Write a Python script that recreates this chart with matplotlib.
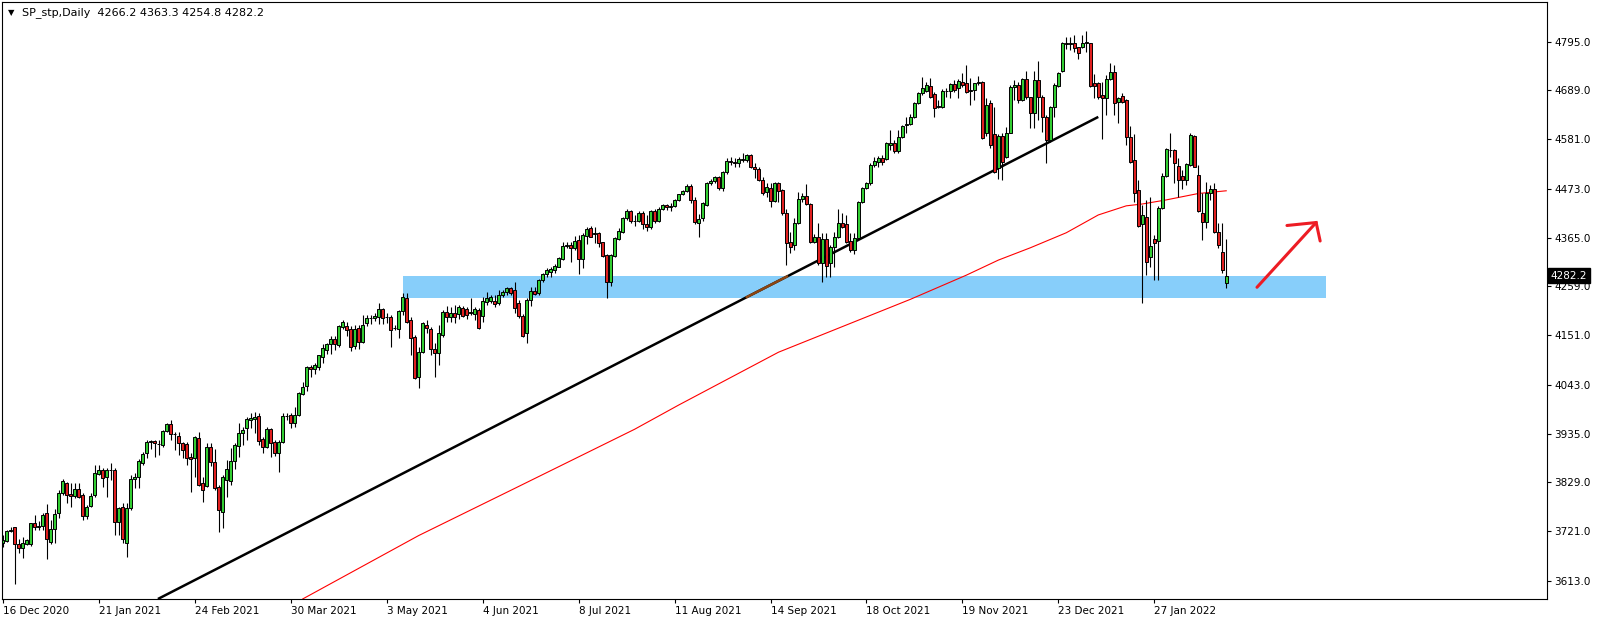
import numpy as np
import matplotlib.pyplot as plt

# daily candles (bar 0 = 16 Dec 2020)
opens = [
    3695.0, 3700.7, 3721.9, 3730.6, 3694.0, 3684.0, 3693.4, 3692.7, 3738.8, 3731.0,
    3733.5, 3760.7, 3698.5, 3725.6, 3760.7, 3804.6, 3826.6, 3802.4, 3799.4, 3814.0,
    3800.9, 3755.5, 3776.7, 3800.9, 3846.9, 3855.7, 3841.0, 3855.7, 3855.7, 3742.3,
    3775.2, 3696.3, 3771.7, 3836.0, 3841.0, 3871.7, 3892.3, 3917.8, 3919.3, 3912.7,
    3910.5, 3941.9, 3956.6, 3934.0, 3930.2, 3914.3, 3912.7, 3883.5, 3881.3, 3925.2,
    3826.6, 3820.6, 3905.5, 3873.2, 3817.7, 3763.6, 3833.8, 3832.3, 3876.1, 3909.0,
    3937.5, 3948.5, 3965.3, 3966.8, 3974.1, 3923.0, 3906.8, 3944.9, 3916.4, 3893.6,
    3916.4, 3974.1, 3976.3, 3958.1, 3976.3, 4022.4, 4040.6, 4080.5, 4076.5, 4082.2,
    4104.2, 4118.9, 4131.4, 4142.3, 4129.8, 4168.6, 4171.5, 4164.9, 4128.3, 4166.4,
    4137.1, 4177.4, 4188.3, 4188.3, 4191.9, 4208.1, 4190.6, 4191.9, 4166.4, 4165.5,
    4203.7, 4232.2, 4184.6, 4148.0, 4060.3, 4115.1, 4173.7, 4164.9, 4121.0, 4112.9,
    4151.7, 4201.5, 4191.2, 4200.0, 4197.8, 4211.6, 4208.8, 4200.6, 4197.8, 4206.6,
    4194.1, 4224.8, 4227.0, 4227.0, 4222.6, 4239.5, 4246.7, 4254.1, 4250.0, 4221.9,
    4193.4, 4156.8, 4228.5, 4248.2, 4243.2, 4272.4, 4285.5, 4289.9, 4294.3, 4301.5,
    4318.4, 4348.0, 4349.1, 4342.5, 4360.1, 4318.4, 4368.8, 4385.7, 4373.2, 4376.1,
    4355.7, 4327.2, 4268.6, 4325.0, 4362.3, 4378.3, 4407.7, 4422.6, 4400.9, 4402.2,
    4419.3, 4395.2, 4388.6, 4423.0, 4402.8, 4428.9, 4436.8, 4431.8, 4435.7, 4447.8,
    4459.9, 4468.0, 4478.5, 4447.8, 4397.4, 4407.7, 4436.8, 4484.4, 4489.5, 4497.6,
    4473.5, 4509.9, 4533.3, 4531.1, 4528.9, 4535.5, 4535.5, 4546.5, 4520.8, 4515.1,
    4491.7, 4464.7, 4474.8, 4446.3, 4485.7, 4469.7, 4418.6, 4356.3, 4349.1, 4396.7,
    4449.3, 4456.6, 4439.0, 4356.3, 4366.0, 4310.3, 4361.6, 4309.0, 4344.1, 4366.0,
    4398.0, 4395.2, 4358.5, 4338.2, 4363.8, 4444.1, 4474.8, 4484.4, 4524.6, 4531.8,
    4539.3, 4537.1, 4568.4, 4573.5, 4555.9, 4585.3, 4612.3, 4614.5, 4629.2, 4659.9,
    4681.8, 4687.5, 4697.8, 4680.3, 4651.7, 4652.4, 4686.8, 4687.5, 4702.2, 4692.8,
    4707.2, 4703.7, 4686.8, 4689.0, 4703.7, 4707.2, 4594.7, 4660.5, 4592.5, 4517.3,
    4588.2, 4541.4, 4595.4, 4695.0, 4700.0, 4667.1, 4712.5, 4673.7, 4637.9, 4711.0,
    4673.0, 4630.5, 4579.4, 4651.1, 4697.8, 4731.4, 4791.4, 4789.9, 4792.8, 4782.7,
    4782.7, 4791.4, 4791.4, 4703.7, 4705.0, 4678.1, 4670.8, 4712.5, 4727.8, 4663.4,
    4675.9, 4667.1, 4585.3, 4535.5, 4469.7, 4395.2, 4409.8, 4322.1, 4361.6, 4358.5,
    4429.6, 4500.4, 4557.5, 4557.5, 4522.4, 4500.4, 4491.7, 4524.6, 4588.2, 4502.6,
    4420.0, 4400.2, 4462.5, 4471.3, 4378.3, 4333.1, 4266.2,
]
highs = [
    3713.1, 3724.1, 3731.3, 3731.3, 3703.7, 3709.4, 3703.7, 3740.1, 3757.0, 3744.5,
    3762.1, 3781.1, 3746.0, 3769.5, 3811.8, 3835.3, 3830.1, 3826.1, 3826.1, 3826.1,
    3804.6, 3778.9, 3804.6, 3866.7, 3866.7, 3859.4, 3859.4, 3870.4, 3859.4, 3775.2,
    3782.7, 3782.7, 3844.7, 3848.5, 3879.1, 3895.8, 3921.5, 3921.5, 3921.5, 3921.5,
    3943.4, 3959.4, 3965.3, 3939.7, 3939.7, 3917.8, 3917.8, 3892.3, 3930.2, 3939.7,
    3841.0, 3914.3, 3914.3, 3901.8, 3822.8, 3844.7, 3877.6, 3903.3, 3914.3, 3959.4,
    3950.6, 3972.6, 3981.4, 3982.3, 3980.0, 3928.7, 3950.6, 3948.5, 3921.5, 3921.5,
    3980.0, 3980.7, 3980.0, 3993.8, 4026.8, 4048.1, 4083.8, 4086.0, 4089.7, 4108.6,
    4132.0, 4134.9, 4149.6, 4150.2, 4173.7, 4184.6, 4180.9, 4171.5, 4173.7, 4173.7,
    4195.6, 4195.6, 4195.6, 4199.3, 4221.2, 4210.3, 4200.6, 4195.6, 4173.7, 4206.6,
    4243.2, 4243.2, 4191.9, 4151.7, 4126.1, 4180.9, 4184.6, 4170.0, 4133.6, 4173.7,
    4206.6, 4215.3, 4212.5, 4217.5, 4217.5, 4215.3, 4213.8, 4232.2, 4213.8, 4210.3,
    4234.4, 4246.7, 4239.5, 4239.5, 4250.4, 4250.4, 4256.3, 4257.6, 4268.6, 4228.5,
    4197.8, 4232.2, 4257.6, 4257.6, 4274.6, 4288.4, 4298.0, 4300.2, 4306.8, 4323.5,
    4356.3, 4356.3, 4356.3, 4368.8, 4371.0, 4374.8, 4389.2, 4391.4, 4389.2, 4378.3,
    4356.3, 4329.4, 4329.4, 4367.3, 4385.7, 4411.2, 4428.1, 4424.8, 4414.9, 4422.6,
    4423.7, 4414.9, 4425.9, 4428.1, 4432.4, 4440.1, 4440.1, 4441.2, 4450.0, 4462.0,
    4470.8, 4482.9, 4481.8, 4454.4, 4417.1, 4444.1, 4487.9, 4493.2, 4500.4, 4500.4,
    4512.1, 4539.3, 4542.8, 4539.3, 4541.4, 4550.2, 4548.7, 4548.7, 4528.3, 4520.8,
    4498.9, 4484.4, 4485.7, 4487.9, 4487.9, 4471.3, 4427.4, 4378.3, 4407.7, 4466.0,
    4462.5, 4482.9, 4441.9, 4373.2, 4396.7, 4374.8, 4374.8, 4349.1, 4378.3, 4427.4,
    4418.6, 4414.9, 4374.8, 4374.8, 4446.3, 4477.0, 4487.9, 4528.3, 4542.8, 4544.3,
    4546.5, 4575.6, 4601.3, 4579.4, 4601.3, 4612.3, 4630.5, 4636.4, 4663.4, 4685.3,
    4718.2, 4707.2, 4714.7, 4685.3, 4667.1, 4690.6, 4692.8, 4705.0, 4711.0, 4712.5,
    4725.7, 4743.9, 4714.7, 4705.0, 4719.7, 4709.4, 4671.5, 4667.1, 4651.7, 4592.5,
    4594.1, 4608.6, 4700.0, 4711.0, 4707.2, 4714.7, 4730.7, 4674.3, 4731.4, 4752.6,
    4678.1, 4634.2, 4653.9, 4703.7, 4729.2, 4795.0, 4805.9, 4805.9, 4809.6, 4784.0,
    4809.6, 4818.4, 4792.8, 4724.1, 4707.2, 4707.2, 4721.9, 4748.9, 4743.9, 4674.3,
    4681.8, 4668.6, 4610.1, 4592.5, 4491.7, 4436.8, 4447.8, 4453.7, 4371.0, 4434.6,
    4507.7, 4561.2, 4594.1, 4559.0, 4539.3, 4513.6, 4529.6, 4594.1, 4590.3, 4524.6,
    4462.5, 4487.9, 4480.7, 4484.4, 4396.7, 4396.7, 4363.3,
]
lows = [
    3687.5, 3698.5, 3720.4, 3605.1, 3673.1, 3662.1, 3691.2, 3689.7, 3724.1, 3724.1,
    3724.1, 3659.9, 3693.4, 3695.0, 3749.7, 3800.9, 3782.7, 3775.2, 3793.5, 3793.5,
    3746.0, 3747.5, 3775.2, 3797.2, 3844.7, 3819.2, 3795.9, 3833.8, 3713.1, 3713.1,
    3695.0, 3664.2, 3768.0, 3815.6, 3816.9, 3866.7, 3881.3, 3901.1, 3883.5, 3888.6,
    3906.8, 3939.7, 3921.5, 3899.6, 3888.6, 3881.3, 3866.7, 3808.1, 3841.0, 3821.0,
    3786.2, 3819.2, 3864.5, 3811.8, 3720.4, 3729.2, 3797.2, 3822.8, 3857.3, 3884.9,
    3910.5, 3921.5, 3947.1, 3936.2, 3910.5, 3892.3, 3903.3, 3884.9, 3886.4, 3852.0,
    3914.3, 3965.3, 3947.1, 3950.6, 3974.1, 4020.2, 4029.6, 4060.3, 4066.2, 4075.0,
    4089.7, 4110.1, 4110.1, 4118.9, 4126.1, 4164.2, 4150.2, 4116.7, 4120.4, 4120.4,
    4134.9, 4171.5, 4175.9, 4183.1, 4175.2, 4175.2, 4177.4, 4126.1, 4162.7, 4144.5,
    4195.6, 4177.4, 4107.9, 4055.3, 4034.8, 4111.6, 4155.5, 4107.9, 4060.3, 4085.9,
    4148.0, 4180.9, 4180.9, 4178.7, 4186.2, 4190.6, 4186.2, 4195.6, 4184.6, 4164.0,
    4180.9, 4217.5, 4222.6, 4213.8, 4217.5, 4234.4, 4239.5, 4239.5, 4199.3, 4189.0,
    4148.0, 4134.9, 4215.3, 4239.5, 4239.5, 4268.6, 4279.6, 4278.3, 4287.1, 4300.2,
    4316.2, 4341.9, 4312.5, 4338.2, 4285.5, 4298.0, 4351.3, 4366.0, 4352.8, 4345.4,
    4322.1, 4232.2, 4259.2, 4322.1, 4360.1, 4376.1, 4403.9, 4397.4, 4391.8, 4399.5,
    4384.2, 4379.8, 4384.2, 4397.4, 4399.5, 4425.9, 4425.9, 4423.7, 4432.4, 4445.6,
    4458.8, 4465.3, 4441.2, 4395.2, 4366.7, 4401.8, 4434.6, 4480.7, 4485.7, 4469.7,
    4468.2, 4504.8, 4524.6, 4520.8, 4520.8, 4531.8, 4531.8, 4517.3, 4495.4, 4490.1,
    4458.8, 4455.1, 4433.1, 4444.1, 4444.1, 4414.9, 4305.2, 4330.9, 4338.2, 4395.2,
    4444.1, 4436.8, 4354.2, 4352.8, 4305.2, 4268.6, 4278.3, 4278.3, 4301.5, 4363.8,
    4385.7, 4352.8, 4334.4, 4329.4, 4361.6, 4440.6, 4471.3, 4480.7, 4520.8, 4519.5,
    4524.6, 4535.5, 4557.5, 4550.2, 4550.2, 4583.1, 4594.1, 4611.6, 4627.0, 4658.3,
    4678.1, 4685.3, 4670.8, 4630.5, 4648.9, 4648.9, 4674.3, 4670.8, 4685.3, 4670.8,
    4696.3, 4683.1, 4656.1, 4667.1, 4700.0, 4580.9, 4588.2, 4561.8, 4507.7, 4493.9,
    4491.7, 4539.3, 4594.1, 4667.1, 4661.2, 4665.6, 4669.3, 4605.0, 4605.0, 4623.2,
    4597.6, 4529.6, 4575.6, 4630.5, 4695.0, 4729.2, 4778.3, 4776.8, 4773.0, 4756.4,
    4780.5, 4773.0, 4695.0, 4670.8, 4668.6, 4580.9, 4634.2, 4711.0, 4634.2, 4616.0,
    4661.2, 4568.4, 4529.6, 4444.1, 4387.9, 4221.3, 4283.3, 4301.5, 4272.4, 4272.4,
    4427.4, 4498.9, 4542.8, 4484.4, 4455.1, 4471.3, 4480.7, 4522.4, 4519.5, 4422.1,
    4360.1, 4385.7, 4447.8, 4374.8, 4341.9, 4288.4, 4254.8,
]
closes = [
    3702.2, 3721.9, 3724.1, 3693.4, 3684.0, 3695.0, 3701.5, 3738.8, 3731.3, 3732.5,
    3756.3, 3703.7, 3725.6, 3758.5, 3804.6, 3831.6, 3800.2, 3799.4, 3814.0, 3795.9,
    3754.8, 3775.2, 3799.4, 3848.5, 3855.7, 3837.5, 3855.7, 3854.6, 3742.3, 3773.0,
    3703.7, 3771.7, 3836.0, 3841.0, 3875.4, 3890.8, 3917.8, 3918.3, 3914.3, 3913.8,
    3941.2, 3956.6, 3934.0, 3934.7, 3914.3, 3899.6, 3881.3, 3879.1, 3927.4, 3822.8,
    3811.8, 3905.5, 3873.2, 3816.2, 3768.0, 3840.3, 3857.3, 3875.4, 3910.5, 3936.2,
    3943.4, 3966.8, 3970.4, 3971.3, 3920.0, 3906.8, 3944.9, 3914.3, 3892.3, 3917.8,
    3974.1, 3975.2, 3959.4, 3976.3, 4023.9, 4037.1, 4081.6, 4078.0, 4085.3, 4107.2,
    4122.6, 4132.0, 4143.0, 4132.0, 4171.5, 4179.6, 4162.7, 4126.1, 4164.9, 4137.1,
    4173.7, 4188.3, 4189.0, 4193.4, 4208.1, 4188.3, 4191.2, 4162.7, 4167.1, 4203.7,
    4234.4, 4180.9, 4145.8, 4056.8, 4115.1, 4177.4, 4166.4, 4121.0, 4112.9, 4156.8,
    4201.5, 4190.6, 4200.0, 4191.9, 4213.8, 4193.4, 4195.6, 4201.1, 4208.8, 4166.4,
    4227.0, 4232.2, 4234.4, 4219.7, 4239.5, 4246.7, 4254.1, 4244.5, 4211.6, 4193.4,
    4150.2, 4228.5, 4248.2, 4242.3, 4272.4, 4285.5, 4294.3, 4295.8, 4303.1, 4320.0,
    4346.9, 4349.1, 4342.5, 4357.9, 4317.8, 4371.0, 4384.2, 4367.3, 4376.1, 4354.2,
    4325.0, 4268.6, 4327.2, 4363.8, 4380.5, 4407.7, 4422.6, 4400.9, 4402.2, 4419.3,
    4395.2, 4388.6, 4423.0, 4402.8, 4428.9, 4436.8, 4431.8, 4435.7, 4447.8, 4459.9,
    4468.0, 4478.5, 4447.8, 4399.5, 4406.1, 4440.6, 4485.7, 4489.5, 4497.6, 4473.5,
    4509.9, 4533.3, 4531.1, 4528.9, 4537.1, 4538.8, 4546.5, 4520.8, 4515.1, 4491.7,
    4462.5, 4477.0, 4446.3, 4485.7, 4468.2, 4418.6, 4352.8, 4345.4, 4396.7, 4449.3,
    4456.6, 4439.0, 4356.3, 4366.0, 4309.0, 4361.6, 4303.1, 4345.4, 4366.0, 4398.0,
    4389.3, 4356.3, 4338.2, 4363.8, 4444.1, 4473.5, 4484.4, 4524.6, 4533.3, 4539.3,
    4531.8, 4572.1, 4572.8, 4555.9, 4586.6, 4610.1, 4614.5, 4629.2, 4661.2, 4681.8,
    4692.8, 4700.0, 4674.3, 4648.9, 4653.9, 4687.5, 4687.9, 4702.2, 4689.0, 4709.4,
    4700.0, 4685.3, 4689.0, 4703.7, 4707.2, 4583.1, 4656.1, 4568.4, 4509.9, 4588.2,
    4531.8, 4595.4, 4696.3, 4700.0, 4667.1, 4712.5, 4673.7, 4637.9, 4711.0, 4673.0,
    4629.2, 4579.4, 4652.4, 4700.0, 4727.0, 4792.8, 4789.9, 4791.4, 4780.5, 4769.5,
    4792.8, 4794.9, 4697.8, 4697.8, 4674.3, 4670.8, 4712.5, 4727.8, 4661.2, 4670.8,
    4663.4, 4585.3, 4531.8, 4463.8, 4390.8, 4414.9, 4312.5, 4346.9, 4352.8, 4429.6,
    4500.4, 4559.0, 4556.4, 4529.6, 4491.7, 4491.7, 4526.7, 4590.3, 4520.8, 4424.3,
    4400.2, 4463.8, 4471.3, 4378.3, 4349.1, 4294.3, 4282.2,
]

date_ticks = [0, 24, 48, 72, 96, 120, 144, 168, 192, 216, 240, 264, 288]
date_labels = ['16 Dec 2020', '21 Jan 2021', '24 Feb 2021', '30 Mar 2021',
               '3 May 2021', '4 Jun 2021', '8 Jul 2021', '11 Aug 2021',
               '14 Sep 2021', '18 Oct 2021', '19 Nov 2021', '23 Dec 2021',
               '27 Jan 2022']
price_ticks = [4795.0, 4689.0, 4581.0, 4473.0, 4365.0, 4259.0,
               4151.0, 4043.0, 3935.0, 3829.0, 3721.0, 3613.0]

# moving average (red line), sampled along the picture
ma_bars = [75, 104, 127, 158, 169, 194, 227, 241, 249, 257, 266, 274, 281, 285, 291, 299, 306]
ma_values = [3573, 3712, 3811, 3945, 3998, 4114, 4230, 4283, 4316, 4343,
             4376, 4415, 4435, 4439, 4448, 4462, 4468]

# drawn objects
trend_bars = [38.75, 274.0]
trend_prices = [3572.8, 4630.0]
zone_bars = [100, 331]
zone_low, zone_high = 4233.6, 4281.2
arrow_bars = [313.7, 328.5]
arrow_prices = [4256.4, 4398.4]
head_bars = [321.2, 328.5, 329.5]
head_prices = [4391.9, 4398.4, 4357.9]

title = 'SP_stp,Daily  4266.2 4363.3 4254.8 4282.2'
last_price = 4282.2

o, h, l, c = map(np.array, (opens, highs, lows, closes))
x = np.arange(len(o))
up = c >= o

W, H = 1604, 623
fig = plt.figure(figsize=(W / 100, H / 100), dpi=100)
ax = fig.add_axes([2 / W, 24 / H, 1545 / W, 597 / H])
ax.set_xlim(-0.25, 386.25)
ax.set_ylim(3572.8, 4882.0)

# support zone
ax.fill_between(zone_bars, zone_low, zone_high, color='#87CEFA', lw=0, zorder=1)

# trend line, brownish where it crosses the zone
ax.plot(trend_bars, trend_prices, color='black', lw=1.8, zorder=2, solid_capstyle='butt')
slope = (trend_prices[1] - trend_prices[0]) / (trend_bars[1] - trend_bars[0])
xa = trend_bars[0] + (zone_low - trend_prices[0]) / slope
xb = trend_bars[0] + (zone_high - trend_prices[0]) / slope
ax.plot([xa, xb], [zone_low, zone_high], color='#8B4513', lw=1.8, zorder=2.1,
        solid_capstyle='butt')

ax.plot(ma_bars, ma_values, color='red', lw=0.8, zorder=2)

# candles
ax.vlines(x, l, h, color='black', lw=0.8, zorder=3)
ax.bar(x, np.abs(c - o), bottom=np.minimum(o, c), width=0.75,
       color=['#32CD32' if u else '#E02020' for u in up],
       edgecolor='black', linewidth=0.7, zorder=4)

# hand drawn arrow
ax.plot(arrow_bars, arrow_prices, color='#ED1C24', lw=2.2, solid_capstyle='round', zorder=5)
ax.plot(head_bars, head_prices, color='#ED1C24', lw=2.2, solid_capstyle='round',
        solid_joinstyle='miter', zorder=5)

# axes styling
for s in ax.spines.values():
    s.set_linewidth(0.8)
    s.set_color('black')
ax.yaxis.tick_right()
ax.set_yticks(price_ticks)
ax.set_yticklabels([f'{p:.1f}' for p in price_ticks])
ax.tick_params(axis='y', direction='out', length=3, width=0.8, pad=2.5, labelsize=7.5)
ax.set_xticks(date_ticks)
ax.set_xticklabels(date_labels, ha='left')
ax.tick_params(axis='x', direction='out', length=3, width=0.8, pad=2, labelsize=7.5)

ax.annotate(f'{last_price:.1f}', xy=(1, last_price), xycoords=('axes fraction', 'data'),
            xytext=(2.5, 0), textcoords='offset points', ha='left', va='center',
            color='white', fontsize=7.5, annotation_clip=False, zorder=10,
            bbox=dict(boxstyle='square,pad=0.25', fc='black', ec='black'))

fig.text(11 / W, 1 - 12.5 / H, '\u25BC', fontsize=6, ha='center', va='center')
fig.text(22 / W, 1 - 13 / H, title, fontsize=8, ha='left', va='center')

fig.savefig('out.png', dpi=100)
